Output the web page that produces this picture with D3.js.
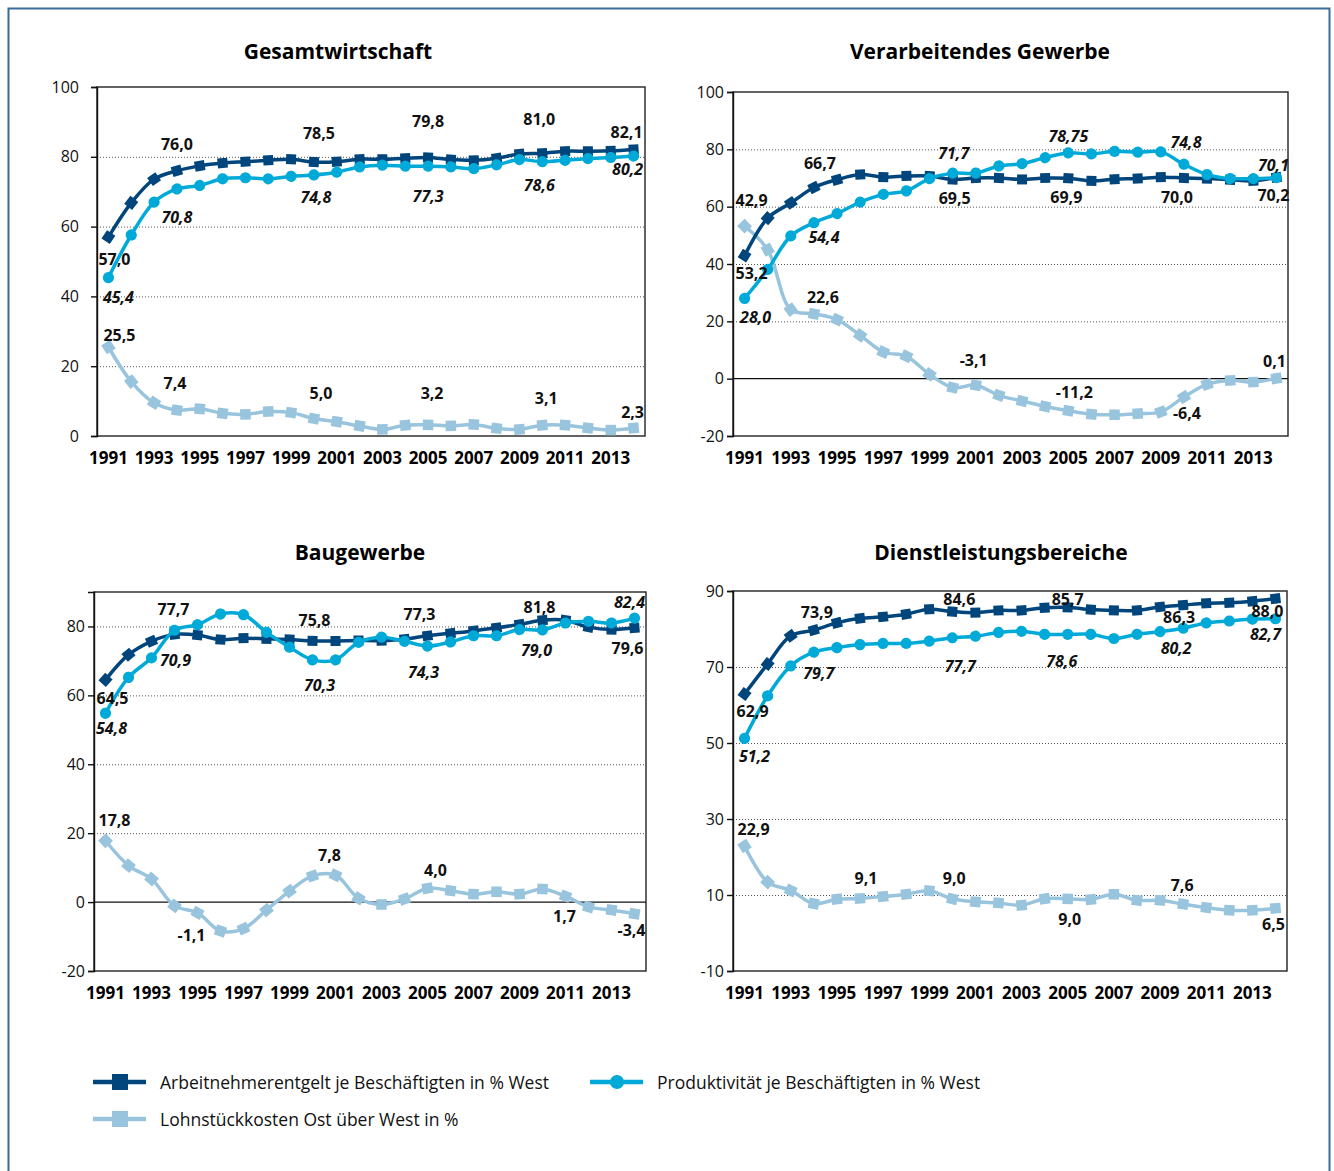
<!DOCTYPE html>
<html>
<head>
<meta charset="utf-8">
<script src="https://cdn.jsdelivr.net/npm/d3@7"></script>
<style>
  body { margin: 0; background: #fff; }
  svg { display: block; font-family: "Open Sans", sans-serif; }
</style>
</head>
<body>
<script>
// ---- data ----
const years = [1991, 1992, 1993, 1994, 1995, 1996, 1997, 1998, 1999, 2000, 2001, 2002,
  2003, 2004, 2005, 2006, 2007, 2008, 2009, 2010, 2011, 2012, 2013, 2014];
const yearTicks = [1991, 1993, 1995, 1997, 1999, 2001, 2003, 2005, 2007, 2009, 2011, 2013];

const seriesNames = {
  E: "Arbeitnehmerentgelt je Beschäftigten in % West",
  P: "Produktivität je Beschäftigten in % West",
  L: "Lohnstückkosten Ost über West in %"
};

const gesamtEntgelt = [57.0, 66.8, 73.6, 76.0, 77.4, 78.2, 78.6, 79.0, 79.3, 78.5, 78.6, 79.3,
  79.3, 79.6, 79.8, 79.2, 79.0, 79.6, 80.8, 81.0, 81.6, 81.6, 81.7, 82.1];
const gesamtProd = [45.4, 57.6, 67.0, 70.8, 71.8, 73.7, 74.0, 73.7, 74.4, 74.8, 75.6, 77.1,
  77.6, 77.3, 77.3, 77.1, 76.6, 77.7, 79.2, 78.6, 79.0, 79.5, 79.8, 80.2];
const gesamtLsk = [25.5, 15.6, 9.5, 7.4, 7.8, 6.5, 6.2, 7.0, 6.7, 5.0, 4.1, 2.9,
  1.9, 3.1, 3.2, 2.9, 3.3, 2.2, 1.9, 3.1, 3.1, 2.3, 1.7, 2.3];

const verarbEntgelt = [42.9, 56.0, 61.3, 66.7, 69.4, 71.2, 70.3, 70.7, 70.7, 69.5, 70.0, 70.0,
  69.5, 70.0, 69.9, 69.0, 69.6, 69.8, 70.3, 70.0, 69.8, 69.4, 69.0, 70.2];
const verarbProd = [28.0, 38.1, 49.8, 54.4, 57.6, 61.6, 64.3, 65.5, 69.8, 71.7, 71.7, 74.2,
  75.0, 77.1, 78.75, 78.4, 79.3, 79.0, 79.1, 74.8, 71.2, 69.8, 69.8, 70.1];
const verarbLsk = [53.2, 45.0, 24.1, 22.6, 20.6, 15.1, 9.3, 7.8, 1.5, -3.1, -2.3, -5.8,
  -7.8, -9.7, -11.2, -12.4, -12.6, -12.2, -11.6, -6.4, -2.0, -0.6, -1.2, 0.1];

const bauEntgelt = [64.5, 71.8, 75.7, 77.7, 77.5, 76.2, 76.6, 76.4, 76.2, 75.8, 75.8, 75.9,
  75.9, 76.3, 77.3, 78.0, 78.7, 79.6, 80.6, 81.8, 81.8, 79.8, 79.1, 79.6];
const bauProd = [54.8, 65.2, 70.9, 78.9, 80.5, 83.6, 83.4, 78.3, 74.0, 70.3, 70.3, 75.4,
  76.9, 75.7, 74.3, 75.5, 77.3, 77.3, 79.1, 79.0, 81.0, 81.5, 81.0, 82.4];
const bauLsk = [17.8, 10.6, 6.7, -1.1, -3.1, -8.4, -7.7, -2.3, 3.2, 7.6, 7.8, 1.1,
  -0.7, 0.9, 4.0, 3.3, 2.3, 3.0, 2.3, 3.8, 1.7, -1.4, -2.3, -3.4];

const dienstEntgelt = [62.9, 70.8, 78.2, 79.7, 81.6, 82.8, 83.2, 83.9, 85.2, 84.6, 84.3, 84.9,
  84.9, 85.6, 85.7, 85.1, 84.9, 84.9, 85.8, 86.3, 86.8, 86.9, 87.3, 88.0];
const dienstProd = [51.2, 62.4, 70.3, 73.9, 75.1, 75.9, 76.2, 76.2, 76.8, 77.7, 78.1, 79.1,
  79.4, 78.6, 78.6, 78.6, 77.5, 78.6, 79.3, 80.2, 81.6, 82.1, 82.6, 82.7];
const dienstLsk = [22.9, 13.4, 11.2, 7.7, 8.9, 9.1, 9.6, 10.2, 11.1, 9.0, 8.2, 7.9,
  7.3, 9.0, 9.0, 8.8, 10.2, 8.6, 8.6, 7.6, 6.7, 6.0, 6.0, 6.5];

// value labels as printed in the source: [series, year, text]
const gesamtLabels = [["E", 1991, "57,0"], ["P", 1991, "45,4"], ["L", 1991, "25,5"],
  ["E", 1994, "76,0"], ["P", 1994, "70,8"], ["L", 1994, "7,4"],
  ["E", 2000, "78,5"], ["P", 2000, "74,8"], ["L", 2000, "5,0"],
  ["E", 2005, "79,8"], ["P", 2005, "77,3"], ["L", 2005, "3,2"],
  ["E", 2010, "81,0"], ["P", 2010, "78,6"], ["L", 2010, "3,1"],
  ["E", 2014, "82,1"], ["P", 2014, "80,2"], ["L", 2014, "2,3"]];
const verarbLabels = [["E", 1991, "42,9"], ["P", 1991, "28,0"], ["L", 1991, "53,2"],
  ["E", 1994, "66,7"], ["P", 1994, "54,4"], ["L", 1994, "22,6"],
  ["E", 2000, "69,5"], ["P", 2000, "71,7"], ["L", 2000, "-3,1"],
  ["E", 2005, "69,9"], ["P", 2005, "78,75"], ["L", 2005, "-11,2"],
  ["E", 2010, "70,0"], ["P", 2010, "74,8"], ["L", 2010, "-6,4"],
  ["E", 2014, "70,2"], ["P", 2014, "70,1"], ["L", 2014, "0,1"]];
const bauLabels = [["E", 1991, "64,5"], ["P", 1991, "54,8"], ["L", 1991, "17,8"],
  ["E", 1994, "77,7"], ["P", 1993, "70,9"], ["L", 1994, "-1,1"],
  ["E", 2000, "75,8"], ["P", 2000, "70,3"], ["L", 2001, "7,8"],
  ["E", 2005, "77,3"], ["P", 2005, "74,3"], ["L", 2005, "4,0"],
  ["E", 2010, "81,8"], ["P", 2010, "79,0"], ["L", 2011, "1,7"],
  ["E", 2014, "79,6"], ["P", 2014, "82,4"], ["L", 2014, "-3,4"]];
const dienstLabels = [["E", 1991, "62,9"], ["P", 1991, "51,2"], ["L", 1991, "22,9"],
  ["E", 1994, "73,9"], ["P", 1994, "79,7"], ["L", 1996, "9,1"],
  ["E", 2000, "84,6"], ["P", 2000, "77,7"], ["L", 2000, "9,0"],
  ["E", 2005, "85,7"], ["P", 2005, "78,6"], ["L", 2005, "9,0"],
  ["E", 2010, "86,3"], ["P", 2010, "80,2"], ["L", 2010, "7,6"],
  ["E", 2014, "88,0"], ["P", 2014, "82,7"], ["L", 2014, "6,5"]];

// ---- layout ----
const W = 1334, H = 1171;
const colors = { E: "#00457c", P: "#00aad8", L: "#99c4dd" };

// label offsets (px) from their point, same order as the label lists
const gesamtNudge = [[6, 22], [10, 19], [11, -12], [0, -27], [0, 28], [-2, -27],
  [5, -29], [2, 22], [7, -26], [0, -36], [0, 30], [4, -32],
  [-3, -34], [-3, 23], [4, -27], [-7, -17], [-6, 13], [-1, -16]];
const verarbNudge = [[7, -56], [11, 19], [7, 47], [6, -24], [10, 14], [9, -17],
  [2, 19], [1, -20], [21, -28], [-2, 19], [0, -17], [6, -19],
  [-7, 19], [2, -22], [3, 16], [-3, 18], [-3, -13], [-2, -17]];
const bauNudge = [[7, 18], [6, 15], [9, -21], [-1, -25], [24, 2], [17, 29],
  [2, -21], [7, 25], [-6, -20], [-8, -22], [-4, 26], [8, -18],
  [-3, -13], [-6, 20], [-1, 20], [-7, 20], [-5, -16], [-3, 16]];
const dienstNudge = [[8, 17], [10, 18], [9, -17], [3, -18], [5, 21], [6, -20],
  [7, -13], [8, 28], [2, -21], [0, -8], [-6, 27], [2, 20],
  [-4, 12], [-7, 20], [-1, -19], [-8, 12], [-10, 15], [-2, 16]];

const panels = [
  { title: "Gesamtwirtschaft", tx: 338, ty: 59, box: [97, 87, 645, 436], domain: [0, 100],
    ticks: [0, 20, 40, 60, 80, 100], pad: 12,
    series: { L: gesamtLsk, E: gesamtEntgelt, P: gesamtProd }, labels: gesamtLabels, nudge: gesamtNudge },
  { title: "Verarbeitendes Gewerbe", tx: 980, ty: 59, box: [733, 92, 1288, 436], domain: [-20, 100],
    ticks: [-20, 0, 20, 40, 60, 80, 100], pad: 3,
    series: { L: verarbLsk, E: verarbEntgelt, P: verarbProd }, labels: verarbLabels, nudge: verarbNudge },
  { title: "Baugewerbe", tx: 360, ty: 560, box: [94, 592, 646, 971], domain: [-20, 90],
    ticks: [-20, 0, 20, 40, 60, 80], pad: 3,
    series: { L: bauLsk, E: bauEntgelt, P: bauProd }, labels: bauLabels, nudge: bauNudge },
  { title: "Dienstleistungsbereiche", tx: 1001, ty: 560, box: [733, 591, 1287, 971], domain: [-10, 90],
    ticks: [-10, 10, 30, 50, 70, 90], pad: 3,
    series: { L: dienstLsk, E: dienstEntgelt, P: dienstProd }, labels: dienstLabels, nudge: dienstNudge }
];

const svg = d3.select("body").append("svg")
  .attr("width", W)
  .attr("height", H);

// outer frame
svg.append("rect")
  .attr("x", 8.5).attr("y", 8.5)
  .attr("width", 1321).attr("height", H + 20)
  .attr("fill", "none")
  .attr("stroke", "#3b6b9b")
  .attr("stroke-width", 2);

function squarePath(s) {
  const h = s / 2;
  return `M${-h},${-h}H${h}V${h}H${-h}Z`;
}

panels.forEach(p => {
  const [x0, y0, x1, y1] = p.box;
  const x = d3.scalePoint().domain(years).range([x0, x1]).padding(0.5);
  const y = d3.scaleLinear().domain(p.domain).range([y1, y0]);
  const g = svg.append("g");

  g.append("text")
    .attr("x", p.tx).attr("y", p.ty)
    .attr("text-anchor", "middle")
    .attr("font-size", 21)
    .attr("font-weight", 700)
    .text(p.title);

  // dotted grid
  g.append("g")
    .selectAll("line")
    .data(p.ticks.filter(t => t !== p.domain[0] && t !== p.domain[1] && t !== 0))
    .join("line")
    .attr("x1", x0).attr("x2", x1)
    .attr("y1", d => y(d) + 0.5).attr("y2", d => y(d) + 0.5)
    .attr("stroke", "#555")
    .attr("stroke-width", 1)
    .attr("stroke-dasharray", "1,2");

  // zero line
  if (p.domain[0] < 0 && p.ticks.includes(0)) {
    g.append("line")
      .attr("x1", x0).attr("x2", x1)
      .attr("y1", y(0)).attr("y2", y(0))
      .attr("stroke", "#111").attr("stroke-width", 1.2);
  }

  // frame
  g.append("rect")
    .attr("x", x0).attr("y", y0)
    .attr("width", x1 - x0).attr("height", y1 - y0)
    .attr("fill", "none")
    .attr("stroke", "#222")
    .attr("stroke-width", 1.4);

  g.append("g")
    .attr("transform", `translate(${x0},0)`)
    .call(d3.axisLeft(y).tickValues(p.ticks).tickSize(6).tickPadding(p.pad)
      .tickFormat(d => String(d)))
    .call(a => a.selectAll("text").attr("font-size", 16).attr("fill", "#111")
      .attr("font-family", "'Open Sans', sans-serif"))
    .call(a => a.selectAll("line,path").attr("stroke", "#111").attr("stroke-width", 1.4));

  g.append("g")
    .selectAll("text")
    .data(yearTicks)
    .join("text")
    .attr("x", d => x(d))
    .attr("y", y1 + 28)
    .attr("text-anchor", "middle")
    .attr("font-size", 17)
    .attr("font-weight", 700)
    .text(d => d);

  const line = d3.line()
    .x((d, i) => x(years[i]))
    .y(d => y(d))
    .curve(d3.curveCatmullRom.alpha(0.5));

  Object.entries(p.series).forEach(([key, vals]) => {
    g.append("path")
      .datum(vals)
      .attr("d", line)
      .attr("fill", "none")
      .attr("stroke", colors[key])
      .attr("stroke-width", 3.5);

    const pts = vals.map((v, i) => [x(years[i]), y(v)]);
    const mk = g.append("g").selectAll("g")
      .data(pts)
      .join("g")
      .attr("transform", (d, i) => {
        const a = pts[Math.max(0, i - 1)], b = pts[Math.min(pts.length - 1, i + 1)];
        const ang = Math.atan2(b[1] - a[1], b[0] - a[0]) * 180 / Math.PI;
        return `translate(${d[0]},${d[1]}) rotate(${ang})`;
      });
    if (key === "P") {
      mk.append("circle").attr("r", 5.6).attr("fill", colors[key]);
    } else {
      mk.append("path").attr("d", squarePath(key === "E" ? 10 : 10.5)).attr("fill", colors[key]);
    }
  });

  g.append("g")
    .selectAll("text")
    .data(p.labels)
    .join("text")
    .attr("x", (d, i) => x(d[1]) + p.nudge[i][0])
    .attr("y", (d, i) => y(p.series[d[0]][years.indexOf(d[1])]) + p.nudge[i][1])
    .attr("dominant-baseline", "central")
    .attr("text-anchor", "middle")
    .attr("font-size", 16)
    .attr("font-weight", 700)
    .attr("font-style", d => d[0] === "P" ? "italic" : "normal")
    .attr("fill", "#111")
    .text(d => d[2]);
});

// legend
const legendItems = [
  { key: "E", x: 93, y: 1082 },
  { key: "P", x: 590, y: 1082 },
  { key: "L", x: 93, y: 1119 }
];
const lg = svg.append("g").selectAll("g")
  .data(legendItems)
  .join("g")
  .attr("transform", d => `translate(${d.x},${d.y})`);
lg.append("line")
  .attr("x1", 0).attr("x2", 53)
  .attr("stroke", d => colors[d.key])
  .attr("stroke-width", 4.5);
lg.each(function (d) {
  const s = d3.select(this);
  if (d.key === "P") s.append("circle").attr("cx", 27).attr("r", 7).attr("fill", colors.P);
  else s.append("rect").attr("x", 19).attr("y", -8).attr("width", 16).attr("height", 16).attr("fill", colors[d.key]);
});
lg.append("text")
  .attr("x", 67)
  .attr("dominant-baseline", "central")
  .attr("font-size", 17.5)
  .attr("fill", "#111")
  .text(d => seriesNames[d.key]);
</script>
</body>
</html>
